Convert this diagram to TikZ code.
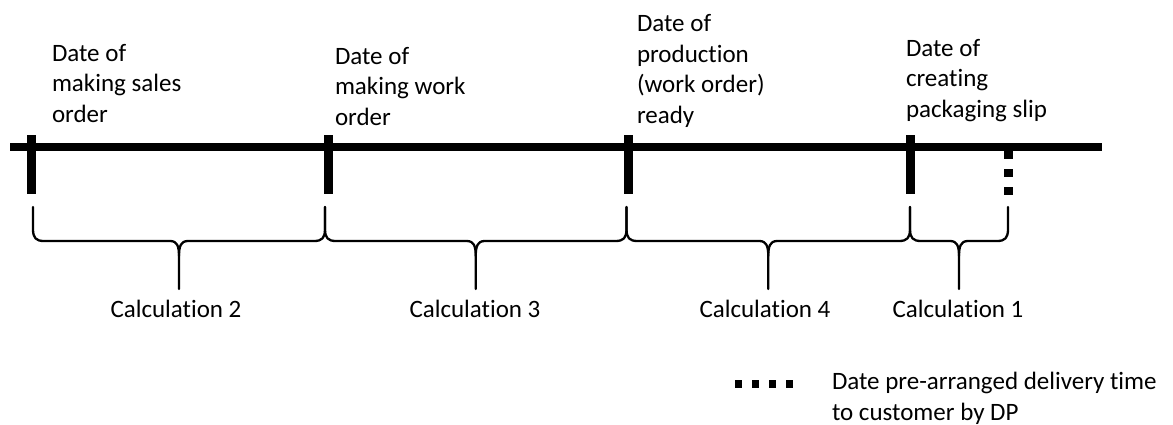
\documentclass[tikz,border=0pt]{standalone}
\usepackage{fontspec}
\setmainfont{Carlito}[Ligatures={NoCommon}]
\begin{document}
\begin{tikzpicture}[x=1pt,y=-1pt,
  every node/.style={inner sep=0pt, outer sep=0pt, text=black,
    font=\fontsize{25}{30.5}\selectfont},
  label/.style={anchor=base west, align=left},
  calc/.style={anchor=base},
  axis/.style={line width=8pt},
  datetick/.style={line width=9pt},
  deadline/.style={line width=9pt, dash pattern=on 8pt off 10pt},
  legendmark/.style={line width=8pt, dash pattern=on 7pt off 10pt},
  bracepath/.style={line width=2.3pt, line join=round, line cap=round},
]
\useasboundingbox (0,0) rectangle (1173,424);

% time axis
\coordinate (axisL) at (10,147);
\coordinate (axisR) at (1102,147);
\draw[axis] (axisL) -- (axisR);

% date ticks on the axis
\foreach \n/\x in {1/31.5,2/328,3/628.5,4/910}{
  \coordinate (t\n) at (\x,147);
  \draw[datetick] ([yshift=12pt]t\n) -- ([yshift=-47pt]t\n);
}
% pre-arranged delivery date (dotted)
\coordinate (t5) at (1008,147);
\draw[deadline] ([yshift=-4pt]t5) -- ([yshift=-50pt]t5);

% braces between consecutive dates
\foreach \a/\b in {33/325, 325/626.5, 626.5/910, 910/1008}{
  \pgfmathsetmacro\m{(\a+\b)/2}
  \draw[bracepath] (\a,207) -- (\a,229) .. controls (\a,238) and (\a+3,241) .. (\a+11,241)
     -- (\m-9,241) .. controls (\m-2,241) and (\m,246) .. (\m,256) -- (\m,289);
  \draw[bracepath] (\b,207) -- (\b,229) .. controls (\b,238) and (\b-3,241) .. (\b-11,241)
     -- (\m+9,241) .. controls (\m+2,241) and (\m,246) .. (\m,256);
}

% date labels (anchored at the baseline of their last line)
\node[label] (d1) at (52,122) {Date of\\making sales\\order};
\node[label] (d2) at (335,125) {Date of\\making work\\order};
\node[label] (d3) at (637,123) {Date of\\production\\(work order)\\ready};
\node[label] (d4) at (906,117) {Date of\\creating\\packaging slip};

% calculation labels
\node[calc] (c2) at (176,317) {Calculation 2};
\node[calc] (c3) at (475,317) {Calculation 3};
\node[calc] (c4) at (765,317) {Calculation 4};
\node[calc] (c1) at (958,317) {Calculation 1};

% legend
\coordinate (lgA) at (735,384);
\coordinate (lgB) at (794,384);
\draw[legendmark] (lgA) -- (lgB);
\node[label] (lg) at (832,420) {Date pre-arranged delivery time\\to customer by DP};
\end{tikzpicture}
\end{document}
